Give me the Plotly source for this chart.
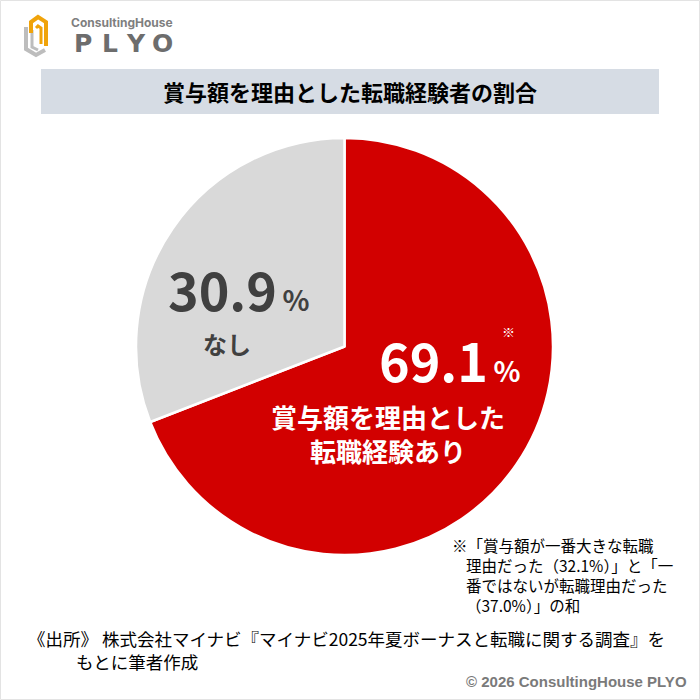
import plotly.graph_objects as go

# ---- data ----
categories = ["賞与額を理由とした転職経験あり", "なし"]
values = [69.1, 30.9]
slice_colors = ["#D20000", "#D9D9D9"]
value_labels = ["69.1", "30.9"]

title_text = "賞与額を理由とした転職経験者の割合"
note_lines = ["※「賞与額が一番大きな転職",
              "理由だった（32.1%）」と「一",
              "番ではないが転職理由だった",
              "（37.0%）」の和"]
source_lines = ["《出所》 株式会社マイナビ『マイナビ2025年夏ボーナスと転職に関する調査』を",
                "もとに筆者作成"]
copyright_text = "© 2026 ConsultingHouse PLYO"

W = H = 700
JP = "Noto Sans CJK JP"


def X(px):
    return px / W


def Y(py):
    return 1 - py / H


fig = go.Figure()
fig.add_trace(go.Pie(
    labels=categories, values=values, sort=False, direction="clockwise",
    rotation=0, marker=dict(colors=slice_colors, line=dict(color="white", width=2.5)),
    textinfo="none", hoverinfo="skip", showlegend=False,
    domain=dict(x=[X(136), X(553)], y=[Y(555), Y(138)]),
))

ann = []


def A(text, x, y, size, color="#000000", bold=False, xanchor="center", family=JP):
    if bold:
        text = "<b>" + text + "</b>"
    ann.append(dict(text=text, x=X(x), y=Y(y), xref="paper", yref="paper",
                    xanchor=xanchor, yanchor="middle", showarrow=False, borderpad=0,
                    align="left", font=dict(size=size, color=color, family=family)))


# title
A(title_text, 350, 91, 22, "#000000", bold=True)

# slice labels
pct = "<span style='font-size:28px'>\u2009%</span>"
A(value_labels[1] + pct, 239, 289, 52, "#404040", bold=True)
A("なし", 227, 343, 24, "#404040", bold=True)
A(value_labels[0] + pct, 450, 360, 52, "#FFFFFF", bold=True)
A("※", 508, 331, 13, "#FFFFFF")
A("賞与額を理由とした", 388, 416, 26, "#FFFFFF", bold=True)
A("転職経験あり", 388, 451, 26, "#FFFFFF", bold=True)

# note
A(note_lines[0], 451, 545, 15.5, "#000000", xanchor="left")
A("<br>".join(note_lines[1:]), 465, 585, 15.5, "#000000", xanchor="left")

# source
A(source_lines[0], 27, 638, 17.5, "#000000", xanchor="left")
A(source_lines[1], 75, 661, 17.5, "#000000", xanchor="left")

# copyright
ann.append(dict(text="<b>" + copyright_text + "</b>", x=X(688), y=Y(681), xref="paper",
                yref="paper", xanchor="right", yanchor="middle", showarrow=False, borderpad=0,
                font=dict(size=15, color="#7A7A7A", family="Liberation Sans Narrow, Liberation Sans")))

# logo text
A("<b>ConsultingHouse</b>", 122, 23, 12, "#7F7F7F", family="Inter")
for ch, cx in zip("PLYO", [83, 110, 136, 162]):
    A("<b>" + ch + "</b>", cx, 44, 25, "#6D6D6D", family="DejaVu Sans")

shapes = []
# outer faint frame
shapes.append(dict(type="rect", xref="paper", yref="paper", x0=X(0.5), x1=X(699.5),
                   y0=Y(699.5), y1=Y(0.5), line=dict(color="#E3E3E3", width=1)))
# title box
shapes.append(dict(type="rect", xref="paper", yref="paper", x0=X(41), x1=X(659),
                   y0=Y(114), y1=Y(69), fillcolor="#D6DCE4", line=dict(width=0),
                   layer="below"))


def path(points):
    return "M " + " L ".join(f"{X(px)},{Y(py)}" for px, py in points)


# logo icon (approximate)
shapes.append(dict(type="path", xref="paper", yref="paper",
                   path=path([(26, 27), (26, 49), (36, 55), (45, 50)]),
                   line=dict(color="#BDBDBD", width=4)))
shapes.append(dict(type="path", xref="paper", yref="paper",
                   path=path([(32, 30), (32, 47), (38, 50)]),
                   line=dict(color="#BDBDBD", width=3)))
shapes.append(dict(type="path", xref="paper", yref="paper",
                   path=path([(31, 33), (31, 22), (38, 17), (46, 22), (46, 46)]),
                   line=dict(color="#F0A30A", width=4)))
shapes.append(dict(type="path", xref="paper", yref="paper",
                   path=path([(36, 28), (38, 26), (41, 28), (41, 44)]),
                   line=dict(color="#F0A30A", width=3)))

fig.update_layout(width=W, height=H, margin=dict(l=0, r=0, t=0, b=0),
                  paper_bgcolor="white", plot_bgcolor="white",
                  annotations=ann, shapes=shapes)
fig.write_html("out.html")
